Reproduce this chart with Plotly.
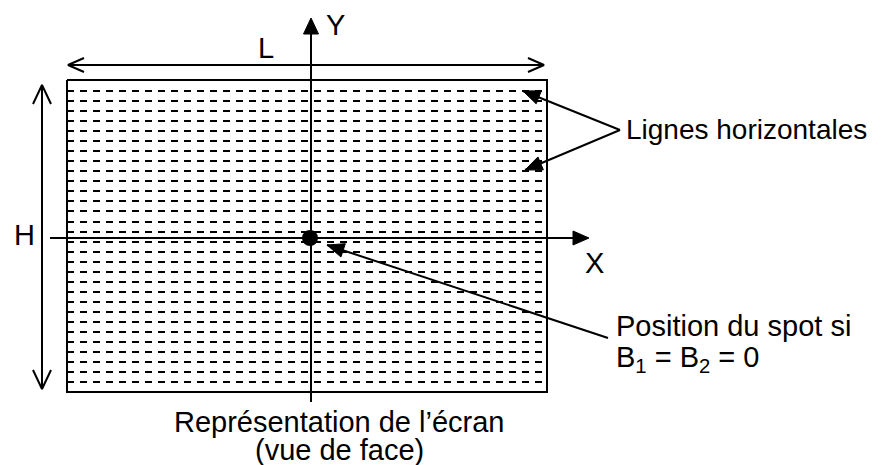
import plotly.graph_objects as go
import math

# ---- diagram geometry (pixel coordinates of the 881x465 canvas) ----
rect_x = [67, 547]
rect_y = [80, 392]
row_y = [91, 101, 111, 121, 131, 141, 151, 161, 171, 181, 191, 201, 211, 222, 232,
         242, 252, 262, 272, 282, 292, 302, 312, 322, 332, 342, 352, 362, 372, 382]
y_axis = {"x": 311, "y0": 402, "tip": 18}
x_axis = {"y": 238, "x0": 50, "tip": 589}
spot = (310, 238)
L_arrow = {"y": 65, "x0": 68, "x1": 544}
H_arrow = {"x": 42, "y0": 85, "y1": 389}
lignes_from = (620, 130)
lignes_tips = [(523, 91), (525, 170)]
spot_from = (608, 338)
spot_tip = (327, 245)

labels = [
    ("L", 266, 48, "center", 29),
    ("Y", 335, 25, "center", 29),
    ("H", 24, 235, "center", 29),
    ("X", 594, 263, "center", 29),
    ("Lignes horizontales", 624, 129, "left", 28),
    ("Position du spot si", 614, 326, "left", 29),
    ("B<sub>1</sub> = B<sub>2</sub> = 0", 614, 359, "left", 29),
    ("Représentation de l’écran", 339, 422, "center", 29),
    ("(vue de face)", 339, 450, "center", 29),
]

FONT = "Liberation Sans, Arial, sans-serif"
BLACK = "#000000"
PAGE_MARGIN = 8  # default body margin of the page

fig = go.Figure()


def line(xs, ys, width=2, dash="solid"):
    fig.add_trace(go.Scatter(x=xs, y=ys, mode="lines",
                             line=dict(color=BLACK, width=width, dash=dash),
                             hoverinfo="skip", showlegend=False, cliponaxis=False))


def head_pts(tip, tail, length, half):
    dx, dy = tip[0] - tail[0], tip[1] - tail[1]
    n = math.hypot(dx, dy)
    ux, uy = dx / n, dy / n
    bx, by = tip[0] - ux * length, tip[1] - uy * length
    px, py = -uy, ux
    return (bx + px * half, by + py * half), (bx - px * half, by - py * half)


def filled_head(tip, tail, length=16, half=7):
    a, b = head_pts(tip, tail, length, half)
    fig.add_trace(go.Scatter(x=[tip[0], a[0], b[0], tip[0]], y=[tip[1], a[1], b[1], tip[1]],
                             mode="lines", fill="toself", fillcolor=BLACK,
                             line=dict(color=BLACK, width=1),
                             hoverinfo="skip", showlegend=False))


def open_head(tip, tail, length=15, half=7):
    a, b = head_pts(tip, tail, length, half)
    line([a[0], tip[0], b[0]], [a[1], tip[1], b[1]], width=2)


# dashed horizontal lines
xs, ys = [], []
for y in row_y:
    xs += [rect_x[0], rect_x[1], None]
    ys += [y, y, None]
line(xs, ys, width=2, dash="7px,6px")

# rectangle (screen)
line([rect_x[0], rect_x[1], rect_x[1], rect_x[0], rect_x[0]],
     [rect_y[0], rect_y[0], rect_y[1], rect_y[1], rect_y[0]], width=2)

# Y axis
line([y_axis["x"], y_axis["x"]], [y_axis["y0"], y_axis["tip"] + 10], width=2)
filled_head((y_axis["x"], y_axis["tip"]), (y_axis["x"], y_axis["y0"]), 16, 7.5)

# X axis
line([x_axis["x0"], x_axis["tip"] - 10], [x_axis["y"], x_axis["y"]], width=2)
filled_head((x_axis["tip"], x_axis["y"]), (x_axis["x0"], x_axis["y"]), 16, 7)

# L dimension arrow
line([L_arrow["x0"], L_arrow["x1"]], [L_arrow["y"], L_arrow["y"]], width=2)
open_head((L_arrow["x1"], L_arrow["y"]), (L_arrow["x0"], L_arrow["y"]), 16, 7)
open_head((L_arrow["x0"], L_arrow["y"]), (L_arrow["x1"], L_arrow["y"]), 16, 7)

# H dimension arrow
line([H_arrow["x"], H_arrow["x"]], [H_arrow["y0"], H_arrow["y1"]], width=2)
open_head((H_arrow["x"], H_arrow["y0"]), (H_arrow["x"], H_arrow["y1"]), 19, 9)
open_head((H_arrow["x"], H_arrow["y1"]), (H_arrow["x"], H_arrow["y0"]), 19, 9)

# pointer arrows to "Lignes horizontales"
for tip in lignes_tips:
    line([lignes_from[0], tip[0]], [lignes_from[1], tip[1]], width=2)
    filled_head(tip, lignes_from, 17, 7)

# pointer arrow to the spot
line([spot_from[0], spot_tip[0]], [spot_from[1], spot_tip[1]], width=2)
filled_head(spot_tip, spot_from, 17, 7)

# the spot
fig.add_trace(go.Scatter(x=[spot[0]], y=[spot[1]], mode="markers",
                         marker=dict(color=BLACK, size=16, line=dict(width=0)),
                         hoverinfo="skip", showlegend=False))

for text, x, y, anchor, size in labels:
    fig.add_annotation(x=x, y=y, xref="x", yref="y", text=text, showarrow=False,
                       xanchor=anchor, yanchor="middle",
                       font=dict(family=FONT, size=size, color=BLACK))

W, H = 881, 465
fig.update_layout(
    width=W - PAGE_MARGIN, height=H - PAGE_MARGIN,
    margin=dict(l=0, r=0, t=0, b=0),
    paper_bgcolor="white", plot_bgcolor="white",
    xaxis=dict(range=[PAGE_MARGIN, W], visible=False, fixedrange=True),
    yaxis=dict(range=[H, PAGE_MARGIN], visible=False, fixedrange=True),
    showlegend=False,
)

fig.write_html("out.html")
